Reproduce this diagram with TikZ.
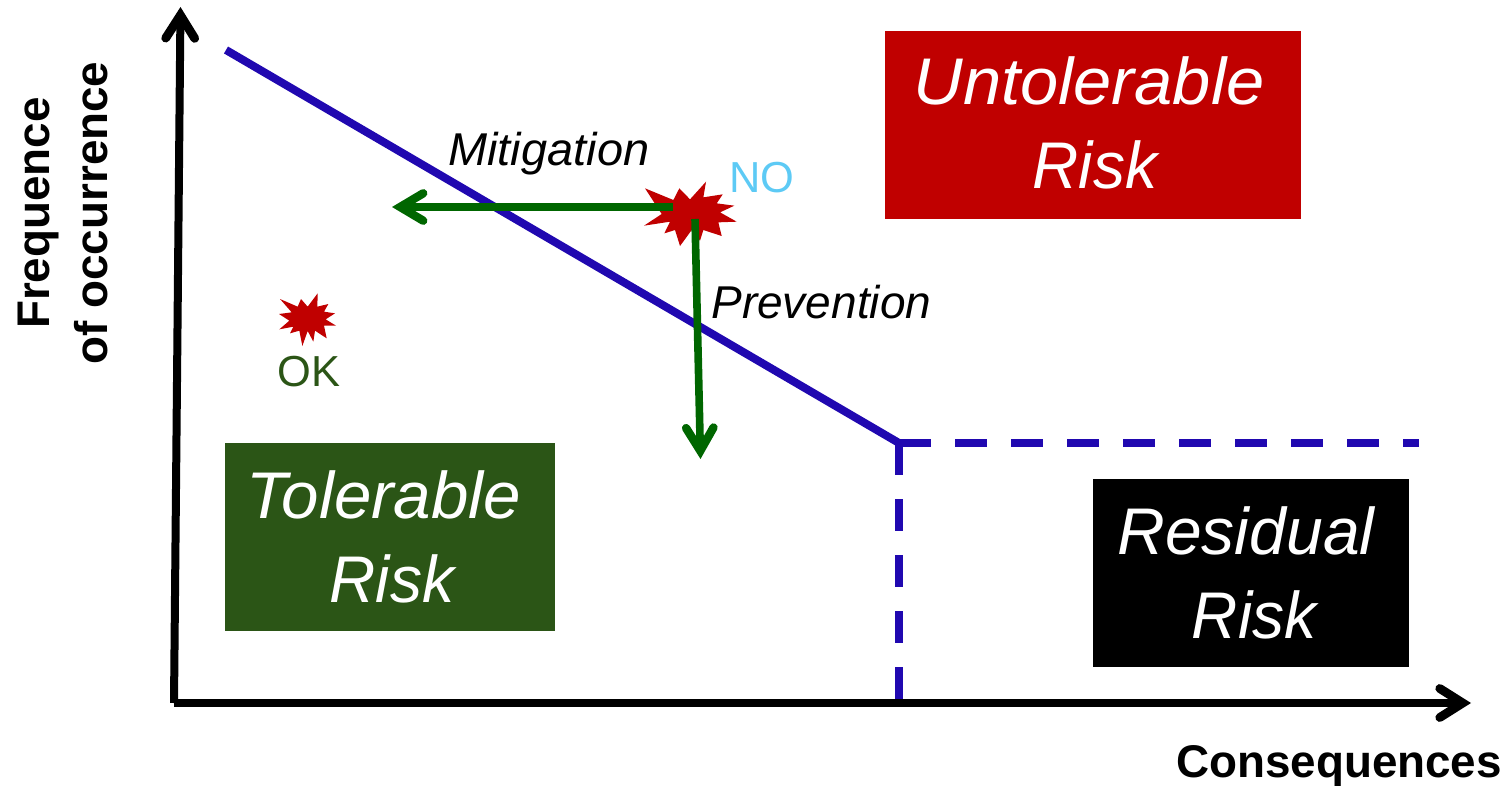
\documentclass[tikz,border=0pt]{standalone}
\usepackage{fontspec}
\setmainfont{Liberation Sans}
\usetikzlibrary{arrows.meta}
\definecolor{riskred}{HTML}{C00000}
\definecolor{riskgreen}{HTML}{2B5516}
\definecolor{limitblue}{HTML}{2008B0}
\definecolor{actiongreen}{HTML}{006600}
\definecolor{nocyan}{HTML}{5DCAF5}
\tikzset{
  x=0.5pt,y=-0.5pt,
  riskbox/.style={draw=none,inner sep=0pt,minimum width=#1*0.5pt,anchor=north west,minimum height=94pt,text=white},
  bigtext/.style={inner sep=0pt,anchor=base,text=white,font=\fontsize{33}{42}\selectfont\itshape},
  actiontext/.style={inner sep=0pt,anchor=base west,font=\fontsize{23}{28}\selectfont\itshape},
  marktext/.style={inner sep=0pt,anchor=base west,font=\fontsize{21.7}{26}\selectfont},
  axistext/.style={inner sep=0pt,anchor=base,font=\fontsize{22.9}{28}\selectfont\bfseries},
  axisline/.style={line width=4pt,-{Straight Barb[line cap=round,line join=miter,length=11.5pt,width=14.5pt,line width=4.4pt]}},
  actionline/.style={line width=3.8pt,actiongreen,-{Straight Barb[line cap=round,line join=miter,length=11.5pt,width=13.7pt,line width=4.2pt]}},
  limitline/.style={line width=4pt,limitblue},
  limitdash/.style={limitline,dash pattern=on 16pt off 12pt},
  starburst/.style={fill=riskred,draw=none},
}
\begin{document}
\begin{tikzpicture}
\useasboundingbox (0,0) rectangle (1509,786);
% coordinates
\coordinate (origin) at (174,703);
\coordinate (ytop) at (180.5,7);
\coordinate (xend) at (1471,703);
\coordinate (limA) at (226,50);
\coordinate (limB) at (899,443);
\coordinate (limC) at (1419,443);
\coordinate (limD) at (899,700);
\coordinate (mitS) at (673,207);
\coordinate (mitE) at (392,207);
\coordinate (preS) at (695,219);
\coordinate (preE) at (700.5,459);
% boxes
\node[riskbox=416,fill=riskred] (untol) at (885,31) {};
\node[riskbox=330,fill=riskgreen] (tol) at (225,443) {};
\node[riskbox=316,fill=black] (resid) at (1093,479) {};
\node[bigtext,xscale=1.04,transform shape] (t1) at (1089,105) {Untolerable};
\node[bigtext,xscale=0.97,transform shape] (t2) at (1095,189) {Risk};
\node[bigtext,xscale=1.02,transform shape] (t3) at (384,518) {Tolerable};
\node[bigtext,xscale=0.97,transform shape] (t4) at (392,602) {Risk};
\node[bigtext] (t5) at (1246,554) {Residual};
\node[bigtext,xscale=0.97,transform shape] (t6) at (1254,638) {Risk};
% limit line
\draw[limitline] (limA) -- (limB);
\draw[limitdash] (limB) -- (limC);
\draw[limitdash] (limB) -- (limD);
% stars
\begin{scope}[shift={(620,150)},x=0.1667pt,y=-0.1667pt]
\fill[starburst] (75,115)--(160,150)--(178,115)--(210,148)--(258,95)--(250,142)--(308,133)--(290,160)--(343,167)--(300,187)--(350,215)--(295,217)--(305,258)--(250,240)--(240,272)--(215,240)--(180,288)--(165,240)--(133,250)--(150,215)--(72,227)--(125,192)--cycle;
\end{scope}
\begin{scope}[shift={(260,280)},x=0.1667pt,y=-0.1667pt]
\fill[starburst] (60,57)--(113,80)--(123,57)--(143,80)--(173,40)--(172,80)--(205,72)--(192,95)--(225,100)--(197,118)--(228,137)--(192,137)--(200,175)--(165,152)--(160,185)--(143,153)--(127,198)--(118,152)--(90,160)--(100,140)--(58,148)--(88,122)--(57,102)--(95,97)--cycle;
\end{scope}
% action arrows
\draw[actionline] (mitS) -- (mitE);
\draw[actionline] (preS) -- (preE);
% axes
\draw[axisline] (origin) -- (ytop);
\draw[axisline] (origin) -- (xend);
% labels
\node[actiontext,xscale=1.02,transform shape] (mit) at (448,166) {Mitigation};
\node[actiontext] (pre) at (711,318) {Prevention};
\node[marktext,text=nocyan] (no) at (729,193) {NO};
\node[marktext,text=riskgreen] (ok) at (277,386) {OK};
\node[axistext] (cons) at (1339,777) {Consequences};
\node[axistext,rotate=90] (freq) at (49,213) {Frequence};
\node[axistext,rotate=90] (occ) at (107,213) {of occurrence};
\end{tikzpicture}
\end{document}
